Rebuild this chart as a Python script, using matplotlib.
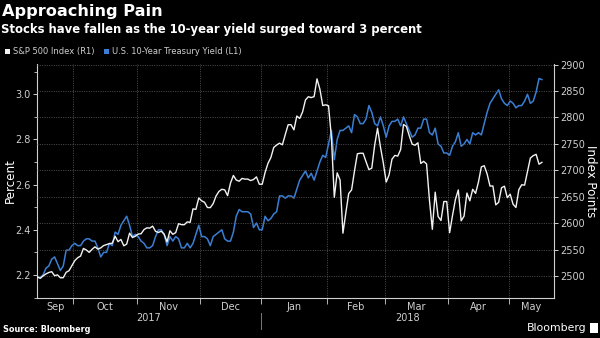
import numpy as np
import pandas as pd
import matplotlib
matplotlib.use("Agg")
import matplotlib.pyplot as plt
import matplotlib.transforms as mtransforms
from matplotlib.patches import Rectangle

# weekday axis (Bloomberg style), Sep 13 2017 .. May 16 2018
dates = pd.bdate_range("2017-09-13", "2018-05-16")

spx = [
    # Sep
    2498.4, 2495.6, 2500.2, 2503.9, 2506.7, 2508.2, 2500.6, 2502.2, 2496.7, 2496.8, 2507.0, 2510.1, 2519.4,
    # Oct
    2529.1, 2534.6, 2537.7, 2552.1, 2549.3, 2544.7, 2550.6, 2555.2, 2550.9, 2553.2, 2557.6,
    2559.4, 2561.3, 2562.1, 2575.2, 2565.0, 2569.1, 2557.2, 2560.4, 2581.1, 2572.8, 2575.3,
    # Nov
    2579.4, 2579.9, 2587.8, 2591.1, 2590.6, 2594.4, 2584.6, 2582.3, 2584.8, 2578.9, 2564.6,
    2585.6, 2578.9, 2582.1, 2599.0, 2597.1, 2597.1, 2602.4, 2601.4, 2627.0, 2626.1, 2647.6,
    # Dec
    2642.2, 2639.4, 2629.6, 2629.3, 2637.0, 2651.5, 2660.0, 2664.1, 2662.9, 2652.0, 2675.8,
    2690.2, 2681.5, 2679.3, 2684.6, 2683.3, 2683.3, 2680.5, 2682.6, 2687.5, 2673.6,
    # Jan
    2673.6, 2695.8, 2713.1, 2724.0, 2743.2, 2747.7, 2751.3, 2748.2, 2767.6, 2786.2, 2786.2, 2776.4,
    2802.6, 2798.0, 2810.3, 2833.0, 2839.1, 2837.5, 2839.3, 2872.9, 2853.5, 2822.4, 2823.8,
    # Feb
    2822.0, 2762.1, 2648.9, 2695.1, 2681.7, 2581.0, 2619.6, 2656.0, 2662.9, 2698.6, 2731.2,
    2732.2, 2732.2, 2716.3, 2701.3, 2704.0, 2747.3, 2779.6, 2744.3, 2713.8,
    # Mar
    2677.7, 2691.3, 2720.9, 2728.1, 2726.8, 2739.0, 2786.6, 2783.0, 2765.3, 2749.5, 2747.3,
    2752.0, 2712.9, 2716.9, 2711.9, 2643.7, 2588.3, 2658.6, 2612.6, 2605.0, 2640.9, 2640.9,
    # Apr
    2581.9, 2614.5, 2644.7, 2662.8, 2604.5, 2613.2, 2656.9, 2642.2, 2664.0, 2656.3, 2677.8,
    2706.4, 2708.6, 2693.1, 2670.1, 2670.3, 2634.6, 2639.4, 2666.9, 2669.9, 2648.1,
    # May
    2654.8, 2635.7, 2629.7, 2663.4, 2672.6, 2671.9, 2697.8, 2723.1, 2727.7, 2730.1, 2711.5, 2715.0,
]

ust10 = [
    # Sep
    2.19, 2.19, 2.20, 2.23, 2.24, 2.27, 2.28, 2.25, 2.22, 2.24, 2.31, 2.31, 2.33,
    # Oct
    2.34, 2.33, 2.33, 2.35, 2.36, 2.36, 2.35, 2.35, 2.32, 2.28, 2.30,
    2.30, 2.34, 2.33, 2.39, 2.38, 2.42, 2.44, 2.46, 2.42, 2.37, 2.38,
    # Nov
    2.37, 2.35, 2.34, 2.32, 2.32, 2.33, 2.37, 2.40, 2.40, 2.38, 2.33,
    2.37, 2.35, 2.37, 2.36, 2.32, 2.32, 2.34, 2.32, 2.34, 2.38, 2.42,
    # Dec
    2.37, 2.37, 2.36, 2.33, 2.37, 2.38, 2.39, 2.40, 2.36, 2.35, 2.35,
    2.39, 2.46, 2.49, 2.48, 2.48, 2.48, 2.47, 2.41, 2.43, 2.40,
    # Jan
    2.40, 2.46, 2.44, 2.45, 2.47, 2.48, 2.55, 2.55, 2.54, 2.55, 2.55, 2.54,
    2.58, 2.62, 2.64, 2.66, 2.63, 2.65, 2.62, 2.66, 2.70, 2.73, 2.72,
    # Feb
    2.78, 2.84, 2.71, 2.80, 2.84, 2.84, 2.85, 2.86, 2.83, 2.91, 2.90,
    2.87, 2.87, 2.89, 2.95, 2.92, 2.87, 2.86, 2.90, 2.86,
    # Mar
    2.81, 2.86, 2.88, 2.88, 2.89, 2.86, 2.90, 2.87, 2.84, 2.81, 2.82,
    2.85, 2.85, 2.89, 2.89, 2.83, 2.82, 2.85, 2.78, 2.77, 2.74, 2.74,
    # Apr
    2.73, 2.77, 2.79, 2.83, 2.77, 2.78, 2.80, 2.78, 2.83, 2.82, 2.83,
    2.82, 2.87, 2.92, 2.96, 2.98, 3.00, 3.02, 2.98, 2.96, 2.95,
    # May
    2.97, 2.96, 2.94, 2.95, 2.95, 2.97, 3.00, 2.96, 2.97, 3.01, 3.07, 3.065,
]

month_names = ["Sep", "Oct", "Nov", "Dec", "Jan", "Feb", "Mar", "Apr", "May"]
years = ["2017", "2018"]

assert len(spx) == len(dates) == len(ust10)

BG = "#000000"
WHITE = "#f2f2f2"
BLUE = "#3b7fd4"
GRID = "#5a5a5a"
TICK = "#cfcfcf"

x = np.arange(len(dates))
x_end = 179.3

# month boundaries sit half a step before the first weekday of each month
first_idx = [0] + [i for i in range(1, len(dates)) if dates[i].month != dates[i - 1].month]
bounds = [i - 0.5 for i in first_idx[1:]]
edges = [0] + bounds + [x_end]
mids = [(a + b) / 2 for a, b in zip(edges[:-1], edges[1:])]
jan_bound = bounds[3]

fig = plt.figure(figsize=(6, 3.38), dpi=100, facecolor=BG)
ax = fig.add_axes([37.3 / 600, 40.3 / 338, 517.0 / 600, 233.7 / 338])
ax.set_facecolor(BG)
ax2 = ax.twinx()

ax.plot(x, ust10, color=BLUE, lw=1.1, solid_joinstyle="round")
ax2.plot(x, spx, color=WHITE, lw=1.0, solid_joinstyle="round")

ax.set_xlim(0, x_end)
ax.set_ylim(2.0995, 3.134)
ax2.set_ylim(2459, 2901)

# left axis: percent
ax.set_yticks([2.2, 2.4, 2.6, 2.8, 3.0])
ax.set_yticks([2.1, 2.3, 2.5, 2.7, 2.9, 3.1], minor=True)
ax.yaxis.set_major_formatter(matplotlib.ticker.FormatStrFormatter("%.1f"))
ax.tick_params(axis="y", which="major", colors=TICK, labelsize=7, length=3, width=0.7, pad=1.5)
ax.tick_params(axis="y", which="minor", colors=TICK, length=2, width=0.6)

# right axis: index points
ax2.set_yticks(np.arange(2500, 2901, 50))
ax2.tick_params(axis="y", colors=TICK, labelsize=7, length=3, width=0.7, pad=1.5)
ax2.grid(axis="y", color=GRID, linestyle=(0, (1.2, 1.6)), lw=0.6)

# x axis: gridlines at month boundaries, labels mid-month
ax.set_xticks(bounds)
ax.set_xticklabels([])
ax.set_xticks(mids, minor=True)
ax.set_xticklabels(month_names, minor=True)
ax.tick_params(axis="x", which="major", colors=TICK, length=4, width=0.6)
ax.tick_params(axis="x", which="minor", colors=TICK, length=0, labelsize=7, pad=3)
ax.grid(axis="x", which="major", color=GRID, linestyle=(0, (1.2, 1.6)), lw=0.6)

for a in (ax, ax2):
    for side in ("left", "right", "bottom"):
        a.spines[side].set_color(TICK)
        a.spines[side].set_linewidth(0.8)
    a.spines["top"].set_visible(False)
ax.spines["right"].set_visible(False)
ax2.spines["left"].set_visible(False)
ax2.spines["bottom"].set_visible(False)

ax.set_ylabel("Percent", color="white", fontsize=8.6, va="center")
ax.yaxis.set_label_coords(-0.053, 0.5)
ax2.set_ylabel("Index Points", color="white", fontsize=8.6, rotation=270, va="center")
ax2.yaxis.set_label_coords(1.07, 0.5)

# year labels under the months, split at Jan 1
trans = mtransforms.blended_transform_factory(ax.transData, ax.transAxes)
ax.text((0 + jan_bound) / 2, -0.088, years[0], transform=trans, ha="center", va="center",
        color=TICK, fontsize=7)
ax.text((jan_bound + x_end) / 2, -0.088, years[1], transform=trans, ha="center", va="center",
        color=TICK, fontsize=7)
ax.plot([jan_bound, jan_bound], [-0.065, -0.135], transform=trans, color="#777777",
        lw=0.7, clip_on=False)

# titles
fig.text(2 / 600, 1 - 11.5 / 338, "Approaching Pain", color="white", fontsize=11.6,
         fontweight="bold", va="center", ha="left")
fig.text(1 / 600, 1 - 29.5 / 338, "Stocks have fallen as the 10-year yield surged toward 3 percent",
         color="white", fontsize=8.4, fontweight="bold", va="center", ha="left")

# legend
fig.add_artist(Rectangle((5 / 600, 1 - 54 / 338), 5 / 600, 5 / 338, transform=fig.transFigure,
                         color=WHITE, lw=0))
fig.text(13 / 600, 1 - 51.5 / 338, "S&P 500 Index (R1)", color=TICK, fontsize=6,
         va="center", ha="left")
fig.add_artist(Rectangle((104 / 600, 1 - 54 / 338), 5 / 600, 5 / 338, transform=fig.transFigure,
                         color=BLUE, lw=0))
fig.text(112 / 600, 1 - 51.5 / 338, "U.S. 10-Year Treasury Yield (L1)", color=TICK, fontsize=6,
         va="center", ha="left")

# footer
fig.text(3 / 600, 1 - 330 / 338, "Source: Bloomberg", color="white", fontsize=5.9,
         fontweight="bold", va="center", ha="left")
fig.text(586 / 600, 1 - 328 / 338, "Bloomberg", color="white", fontsize=7.8,
         va="center", ha="right")
fig.add_artist(Rectangle((590 / 600, 1 - 333 / 338), 8 / 600, 10 / 338, transform=fig.transFigure,
                         color="white", lw=0))

fig.savefig("out.png", dpi=100, facecolor=BG)
